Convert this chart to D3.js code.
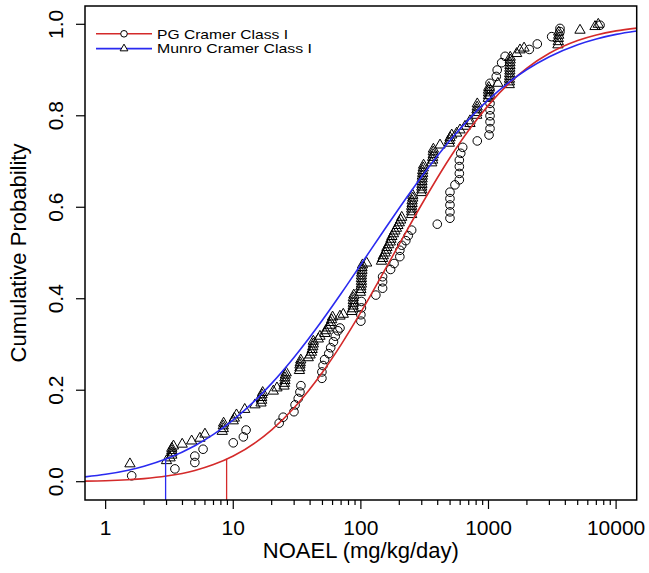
<!DOCTYPE html>
<html>
<head>
<meta charset="utf-8">
<script src="https://cdn.jsdelivr.net/npm/d3@7"></script>
<style>
  html, body { margin: 0; padding: 0; background: #fff; }
  svg { display: block; font-family: "Liberation Sans", Arial, Helvetica, sans-serif; }
</style>
</head>
<body>
<svg id="chart" width="649" height="573"></svg>
<script>
// ---------- data ----------
const seriesNames = ["PG Cramer Class I", "Munro Cramer Class I"];
const xTicks = [1, 10, 100, 1000, 10000];
const yTicks = [0, 0.2, 0.4, 0.6, 0.8, 1.0];

// PG Cramer Class I: [NOAEL, cumulative probability]
const pgPoints = [
  [1.6,0.013],[3.49,0.028],[5.0,0.042],[5.0,0.056],[5.8,0.071],[10,0.085],[12,0.098],[12.6,0.113],
  [22.9,0.128],[24.6,0.141],[29.9,0.153],[30.5,0.168],[32.3,0.182],[33.3,0.196],[33.9,0.210],
  [49.5,0.226],[49.5,0.240],[50.5,0.254],[52,0.267],[56,0.280],[58,0.293],[61,0.306],[63,0.318],[66,0.330],[68.6,0.336],
  [100,0.351],[100,0.365],[101,0.380],[101,0.394],[131,0.408],[148,0.423],[148,0.437],[148,0.448],
  [171,0.464],[182,0.477],[202,0.492],[202,0.506],[209,0.517],[225,0.527],[235,0.538],[250,0.550],
  [397,0.563],[499,0.576],[499,0.590],[499,0.605],[499,0.619],[499,0.633],[546,0.649],
  [591,0.660],[591,0.674],[591,0.689],[591,0.703],[606,0.718],[628,0.731],[817,0.745],
  [1010,0.758],[1028,0.772],[1028,0.787],[1028,0.800],[1028,0.813],[1028,0.827],[1028,0.842],[1028,0.857],[1028,0.871],
  [1150,0.886],[1170,0.900],[1268,0.916],[1350,0.930],[2089,0.945],[2412,0.957],[3126,0.973],
  [3633,0.984],[3633,0.991],[7480,0.998]
];

// Munro Cramer Class I: [NOAEL, cumulative probability]
const munroPoints = [
  [1.55,0.039],
  [3.0,0.046],[3.2,0.052],[3.3,0.058],[3.3,0.063],[3.3,0.068],[3.3,0.073],[3.4,0.078],
  [3.98,0.082],[4.72,0.089],[5.48,0.095],[6.0,0.104],
  [8.2,0.110],[8.35,0.116],[8.35,0.122],[8.4,0.128],
  [10.0,0.133],[10.2,0.139],[10.6,0.146],[12.3,0.158],[14.8,0.168],
  [16.5,0.172],[16.7,0.178],[16.7,0.184],[16.8,0.190],[17,0.195],
  [20.6,0.198],[22,0.205],
  [25,0.209],[25.2,0.215],[25.4,0.221],[25.4,0.227],[25.6,0.233],[26,0.238],
  [33,0.243],[33.3,0.249],[33.3,0.255],[33.5,0.260],[33.8,0.266],
  [38.7,0.271],[40,0.277],
  [41,0.283],[41.5,0.289],[42,0.295],[42.4,0.301],[42.4,0.307],
  [46.4,0.312],[47.8,0.318],
  [52.3,0.324],[53,0.330],[55,0.336],[57.3,0.342],[58,0.348],[59,0.354],[60,0.360],
  [68.6,0.362],[72.8,0.366],
  [84.7,0.372],[86,0.378],[87,0.384],[87.2,0.390],[87.2,0.396],[87.2,0.402],[88,0.408],
  [99,0.414],[100,0.420],[100,0.426],[101,0.432],[101,0.438],[101,0.444],[101,0.450],[101.4,0.456],
  [102,0.462],[102,0.468],[103,0.474],[111,0.478],
  [145,0.482],[148,0.488],[150,0.494],[155,0.500],[158,0.506],[160,0.512],[165,0.518],[170,0.524],
  [172,0.530],[175,0.536],[180,0.542],[185,0.548],[190,0.554],[195,0.560],[200,0.566],[205,0.572],[209,0.578],
  [250,0.584],[250,0.590],[250,0.596],[250,0.602],[252,0.608],[252,0.614],[255,0.620],[255,0.626],
  [299,0.632],[300,0.638],[300,0.644],[301,0.650],[301,0.656],[302,0.662],[303,0.668],[305,0.674],
  [305,0.680],[308,0.686],[310,0.692],
  [359,0.697],[365,0.703],[365,0.709],[369,0.715],[369,0.721],[370,0.727],
  [417,0.736],
  [493,0.740],[495,0.746],[500,0.752],[515,0.758],
  [563,0.762],[598,0.769],[655,0.777],
  [716,0.783],[716,0.789],
  [809,0.801],[809,0.807],[812,0.813],[815,0.819],[817,0.826],
  [996,0.838],[1000,0.844],[1000,0.850],[1000,0.856],[1005,0.862],
  [1185,0.871],
  [1455,0.868],[1460,0.874],[1460,0.880],[1465,0.886],[1465,0.892],[1470,0.898],[1470,0.904],
  [1473,0.910],[1473,0.916],[1480,0.922],[1480,0.928],
  [1662,0.936],[1765,0.944],[1900,0.948],
  [3500,0.955],[3524,0.962],[3524,0.969],[3550,0.976],[3550,0.983],
  [5212,0.987],[6834,0.995],[7250,1.0]
];

// fitted curves: [NOAEL, probability]
const curveX   = [0.69, 1, 1.5, 2, 3, 5, 7, 10, 15, 20, 30, 50, 70, 100, 150, 200, 300, 500, 700, 1000, 1500, 2000, 3000, 5000, 7000, 10000, 14500];
const pgCurve  = [0.0012, 0.0022, 0.0044, 0.0068, 0.0124, 0.0246, 0.0375, 0.0562, 0.086, 0.1134, 0.1618, 0.2394, 0.2998, 0.3707, 0.457, 0.5196, 0.6066, 0.7088, 0.7683, 0.8233, 0.8749, 0.9044, 0.9368, 0.9647, 0.9768, 0.9856, 0.9916];
const munroCurve = [0.0105, 0.0162, 0.0252, 0.0338, 0.0500, 0.0787, 0.1033, 0.1353, 0.179, 0.215, 0.2722, 0.3535, 0.4114, 0.4749, 0.5475, 0.5983, 0.6671, 0.7463, 0.7922, 0.8352, 0.8766, 0.9011, 0.9292, 0.9555, 0.968, 0.978, 0.9854];

// 5th percentile markers: [NOAEL, probability]
const pgP5 = [8.87, 0.05];
const munroP5 = [2.95, 0.05];

// ---------- drawing ----------
const RED = "#d42a2a", BLUE = "#2a2af0";
const svg = d3.select("#chart");
const L = 85, R = 636.7, T = 6, B = 500;

const x = d3.scaleLog().domain([0.689, 14500]).range([L, R]);
const y = d3.scaleLinear().domain([-0.04, 1.04]).range([B, T]);

svg.append("defs").append("clipPath").attr("id", "clip")
  .append("rect").attr("x", L).attr("y", T).attr("width", R - L).attr("height", B - T);

const plot = svg.append("g").attr("clip-path", "url(#clip)");

// points
plot.append("g").selectAll("circle").data(pgPoints).join("circle")
  .attr("cx", d => x(d[0])).attr("cy", d => y(d[1])).attr("r", 4.3)
  .attr("fill", "none").attr("stroke", "#000").attr("stroke-width", 1);

const tri = d3.symbol().type(d3.symbolTriangle).size(46);
plot.append("g").selectAll("path").data(munroPoints).join("path")
  .attr("d", tri)
  .attr("transform", d => `translate(${x(d[0])},${y(d[1])})`)
  .attr("fill", "none").attr("stroke", "#000").attr("stroke-width", 1);

// curves
const line = d3.line().x(d => x(d[0])).y(d => y(d[1])).curve(d3.curveMonotoneX);
plot.append("path").datum(curveX.map((v, i) => [v, pgCurve[i]]))
  .attr("d", line).attr("fill", "none").attr("stroke", RED).attr("stroke-width", 1.6);
plot.append("path").datum(curveX.map((v, i) => [v, munroCurve[i]]))
  .attr("d", line).attr("fill", "none").attr("stroke", BLUE).attr("stroke-width", 1.6);

// 5th percentile vertical lines
plot.append("line").attr("x1", x(munroP5[0])).attr("x2", x(munroP5[0]))
  .attr("y1", B).attr("y2", y(munroP5[1])).attr("stroke", BLUE).attr("stroke-width", 1.3);
plot.append("line").attr("x1", x(pgP5[0])).attr("x2", x(pgP5[0]))
  .attr("y1", B).attr("y2", y(pgP5[1])).attr("stroke", RED).attr("stroke-width", 1.3);

// box
svg.append("rect").attr("x", L).attr("y", T).attr("width", R - L).attr("height", B - T)
  .attr("fill", "none").attr("stroke", "#000").attr("stroke-width", 1.5);

// x axis ticks
const minor = [];
for (let dec = 1; dec < 10000; dec *= 10) for (let k = 2; k <= 9; k++) minor.push(dec * k);
const gx = svg.append("g");
gx.selectAll("line.minor").data(minor).join("line").attr("class", "minor")
  .attr("x1", d => x(d)).attr("x2", d => x(d)).attr("y1", B).attr("y2", B + 5)
  .attr("stroke", "#000").attr("stroke-width", 1.2);
gx.selectAll("line.major").data(xTicks).join("line").attr("class", "major")
  .attr("x1", d => x(d)).attr("x2", d => x(d)).attr("y1", B).attr("y2", B + 9)
  .attr("stroke", "#000").attr("stroke-width", 1.2);
gx.selectAll("text").data(xTicks).join("text")
  .attr("x", d => x(d)).attr("y", 535).attr("text-anchor", "middle")
  .attr("font-size", 21).text(d => String(d));

// y axis ticks
const gy = svg.append("g");
gy.selectAll("line").data(yTicks).join("line")
  .attr("x1", L - 9).attr("x2", L).attr("y1", d => y(d)).attr("y2", d => y(d))
  .attr("stroke", "#000").attr("stroke-width", 1.2);
gy.selectAll("text").data(yTicks).join("text")
  .attr("transform", d => `translate(63,${y(d)}) rotate(-90)`)
  .attr("text-anchor", "middle").attr("font-size", 21)
  .text(d => d3.format(".1f")(d));

// axis titles
svg.append("text").attr("x", (L + R) / 2).attr("y", 558).attr("text-anchor", "middle")
  .attr("font-size", 22).text("NOAEL (mg/kg/day)");
svg.append("text").attr("transform", `translate(26,${(T + B) / 2}) rotate(-90)`)
  .attr("text-anchor", "middle").attr("font-size", 22).text("Cumulative Probability");

// legend
const leg = svg.append("g");
const legY = [33.8, 48.6];
const legCol = [RED, BLUE];
legY.forEach((ly, i) => {
  leg.append("line").attr("x1", 96).attr("x2", 152).attr("y1", ly).attr("y2", ly)
    .attr("stroke", legCol[i]).attr("stroke-width", 1.6);
  leg.append("text").attr("x", 157).attr("y", ly + 4.7).attr("font-size", 13.2)
    .attr("textLength", i === 0 ? 131 : 155).attr("lengthAdjust", "spacingAndGlyphs")
    .text(seriesNames[i]);
});
leg.append("circle").attr("cx", 124).attr("cy", legY[0]).attr("r", 3.3)
  .attr("fill", "#fff").attr("stroke", "#000").attr("stroke-width", 1);
leg.append("path").attr("d", d3.symbol().type(d3.symbolTriangle).size(26))
  .attr("transform", `translate(124,${legY[1]})`)
  .attr("fill", "#fff").attr("stroke", "#000").attr("stroke-width", 1);
</script>
</body>
</html>
